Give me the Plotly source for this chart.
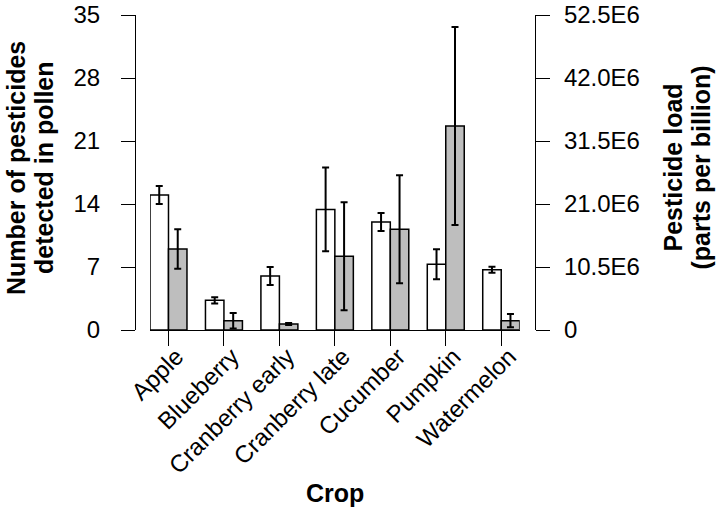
import plotly.graph_objects as go

crops = ["Apple", "Blueberry", "Cranberry early", "Cranberry late", "Cucumber", "Pumpkin", "Watermelon"]
num_pesticides = [15.0, 3.3, 6.0, 13.4, 12.0, 7.3, 6.7]
num_pesticides_err = [1.0, 0.35, 1.0, 4.65, 1.0, 1.67, 0.33]
pesticide_load = [13.5e6, 1.55e6, 1.0e6, 12.3e6, 16.8e6, 34.0e6, 1.55e6]
pesticide_load_err = [3.3e6, 1.3e6, 0.15e6, 9.0e6, 9.0e6, 16.5e6, 1.1e6]

left_ticks = [0, 7, 14, 21, 28, 35]
right_ticks = [0, 10.5e6, 21.0e6, 31.5e6, 42.0e6, 52.5e6]
right_ticktext = ["0", "10.5E6", "21.0E6", "31.5E6", "42.0E6", "52.5E6"]

left_title = ["Number of pesticides", "detected in pollen"]
right_title = ["Pesticide load", "(parts per billion)"]
x_title = "Crop"

FONT = "Liberation Sans, Arial, Helvetica, sans-serif"
idx = list(range(len(crops)))
bw = 1 / 3

W, H = 720, 515
L, R, T, B = 135, 185, 15, 185
PW, PH = W - L - R, H - T - B  # 400 x 315
OX, OY = L, T  # screen position of the plot's top-left corner (body margin removed)


def px(sx):
    return (sx - OX) / PW


def py(sy):
    return (OY + PH - sy) / PH


fig = go.Figure()
fig.add_trace(go.Bar(
    x=idx, y=num_pesticides, width=bw, offset=-bw,
    marker=dict(color="white", line=dict(color="black", width=1.5)),
    error_y=dict(type="data", array=num_pesticides_err, color="black", thickness=2, width=3.5),
    yaxis="y", showlegend=False,
))
fig.add_trace(go.Bar(
    x=idx, y=pesticide_load, width=bw, offset=0,
    marker=dict(color="#BEBEBE", line=dict(color="black", width=1.5)),
    error_y=dict(type="data", array=pesticide_load_err, color="black", thickness=2, width=3.5),
    yaxis="y2", showlegend=False,
))

TITLE_SIZE = 25
annotations = []
for text, sx in zip(left_title, [16, 44]):
    annotations.append(dict(text=f"<b>{text}</b>", xref="paper", yref="paper",
                            x=px(sx), y=py(168), xanchor="center", yanchor="middle",
                            textangle=-90, showarrow=False, font=dict(size=TITLE_SIZE)))
for text, sx in zip(right_title, [672.5, 700.5]):
    annotations.append(dict(text=f"<b>{text}</b>", xref="paper", yref="paper",
                            x=px(sx), y=py(168), xanchor="center", yanchor="middle",
                            textangle=-90, showarrow=False, font=dict(size=TITLE_SIZE)))
annotations.append(dict(text=f"<b>{x_title}</b>", xref="paper", yref="paper",
                        x=px(335), y=py(493), xanchor="center", yanchor="middle",
                        showarrow=False, font=dict(size=TITLE_SIZE)))

fig.update_layout(
    width=W, height=H,
    margin=dict(l=L, r=R, t=T, b=B, autoexpand=False),
    paper_bgcolor="white", plot_bgcolor="white",
    barmode="overlay",
    font=dict(family=FONT, size=24, color="black"),
    xaxis=dict(
        domain=[15 / PW, 384.7 / PW], automargin=False,
        range=[-bw, len(crops) - 1 + bw],
        tickmode="array", tickvals=idx, ticktext=crops,
        tickangle=-45, ticks="outside", ticklen=15, tickwidth=1.2, tickcolor="black",
        showline=True, linecolor="black", linewidth=1.2,
        showgrid=False, zeroline=False,
        ticklabelstandoff=-13, ticklabelshift=8,
        tickfont=dict(size=24),
    ),
    yaxis=dict(
        anchor="free", position=0, side="left", automargin=False,
        range=[0, 35], tickmode="array", tickvals=left_ticks,
        ticks="outside", ticklen=14, tickwidth=1.2, tickcolor="black",
        showline=True, linecolor="black", linewidth=1.2,
        showgrid=False, zeroline=False, ticklabelstandoff=16,
        ticklabeloverflow="allow",
    ),
    yaxis2=dict(
        anchor="free", position=1, side="right", overlaying="y", automargin=False,
        range=[0, 52.5e6], tickmode="array", tickvals=right_ticks, ticktext=right_ticktext,
        ticks="outside", ticklen=14, tickwidth=1.2, tickcolor="black",
        showline=True, linecolor="black", linewidth=1.2,
        showgrid=False, zeroline=False, ticklabelstandoff=9,
        ticklabeloverflow="allow",
    ),
    annotations=annotations,
)

fig.write_html(
    "out.html",
    config={"displayModeBar": False},
    post_script="document.body.style.margin='0';document.body.style.overflow='hidden';",
)
